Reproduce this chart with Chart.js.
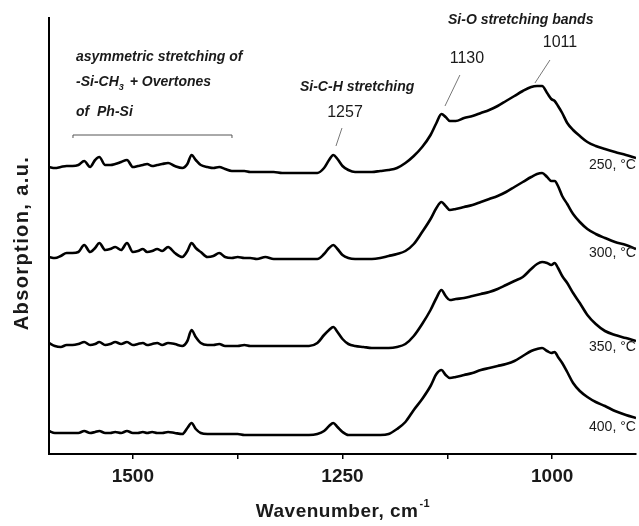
<!DOCTYPE html>
<html>
<head>
<meta charset="utf-8">
<script src="https://cdn.jsdelivr.net/npm/chart.js@4.4.1/dist/chart.umd.min.js"></script>
<style>
  html, body { margin: 0; padding: 0; background: #fff; }
  #wrap { width: 639px; height: 526px; }
</style>
</head>
<body>
<div id="wrap"><canvas id="ftir" width="639" height="526"></canvas></div>
<script>
// wavenumber grid, cm-1 (shared by all four spectra)
const wavenumbers = [
  1600, 1593, 1586, 1579, 1572, 1565, 1558, 1551, 1545, 1540,
  1533, 1527, 1521, 1514, 1507, 1500, 1494, 1488, 1483, 1477,
  1471, 1465, 1458, 1450, 1441, 1435, 1430, 1425, 1419, 1411,
  1404, 1397, 1390, 1382, 1375, 1367, 1360, 1352, 1342, 1332,
  1322, 1311, 1300, 1290, 1280, 1272, 1266, 1261, 1256, 1250,
  1243, 1235, 1225, 1215, 1205, 1195, 1185, 1175, 1165, 1155,
  1145, 1138, 1132, 1127, 1122, 1115, 1105, 1095, 1085, 1075,
  1065, 1055, 1045, 1035, 1025, 1018, 1012, 1006, 1001, 997,
  993, 988, 982, 975, 967, 958, 948, 937, 925, 912, 900
];

// absorption, a.u. (curves already stacked as in the figure)
const abs250 = [
  28.7, 28.6, 28.7, 28.8, 28.8, 28.9, 29.3, 28.7, 29.4, 29.7,
  28.9, 28.9, 29.0, 29.2, 29.4, 28.7, 28.8, 28.9, 29.0, 28.8,
  28.9, 29.0, 29.1, 28.8, 28.6, 29.0, 29.9, 29.4, 28.9, 28.7,
  28.6, 28.7, 28.5, 28.3, 28.3, 28.3, 28.2, 28.2, 28.2, 28.2,
  28.1, 28.1, 28.1, 28.1, 28.1, 28.6, 29.4, 29.9, 29.5, 28.8,
  28.4, 28.2, 28.2, 28.2, 28.3, 28.4, 28.6, 29.1, 29.8, 30.7,
  31.9, 33.1, 34.0, 33.7, 33.3, 33.3, 33.6, 33.8, 34.1, 34.4,
  34.8, 35.3, 35.8, 36.3, 36.7, 36.8, 36.8, 36.1, 35.5, 35.3,
  34.8, 34.1, 33.1, 32.4, 31.8, 31.2, 30.8, 30.5, 30.2, 29.9, 29.6
];
const abs300 = [
  19.7, 19.6, 19.8, 20.1, 20.1, 20.2, 20.9, 20.2, 20.6, 21.1,
  20.4, 20.5, 20.7, 20.4, 21.1, 20.2, 20.3, 20.5, 20.2, 20.3,
  20.5, 20.3, 20.7, 20.1, 19.7, 20.3, 21.1, 20.6, 20.2, 19.7,
  19.8, 20.1, 19.7, 19.6, 19.7, 19.6, 19.6, 19.5, 19.7, 19.5,
  19.5, 19.5, 19.5, 19.5, 19.5, 20.0, 20.6, 20.9, 20.5, 19.9,
  19.6, 19.5, 19.5, 19.5, 19.6, 19.8, 20.0, 20.3, 21.0, 22.2,
  23.5, 24.6, 25.2, 24.8, 24.4, 24.5, 24.7, 24.9, 25.2, 25.5,
  25.8, 26.2, 26.7, 27.2, 27.7, 28.0, 28.1, 27.7, 27.3, 27.3,
  26.8, 25.8, 25.0, 24.0, 23.2, 22.5, 22.0, 21.6, 21.2, 20.9, 20.5
];
const abs350 = [
  11.1, 10.8, 10.7, 10.9, 10.9, 11.0, 11.2, 10.9, 11.0, 11.2,
  10.9, 11.0, 11.2, 11.0, 11.2, 10.9, 11.0, 11.1, 10.9, 11.0,
  11.1, 10.9, 11.1, 11.0, 10.8, 11.3, 12.4, 11.7, 11.1, 10.9,
  10.9, 11.0, 10.8, 10.8, 10.8, 10.9, 10.8, 10.8, 10.8, 10.8,
  10.8, 10.8, 10.8, 10.8, 11.1, 11.9, 12.4, 12.7, 12.2, 11.5,
  11.0, 10.8, 10.7, 10.6, 10.6, 10.6, 10.7, 11.0, 11.8, 13.0,
  14.4, 15.6, 16.4, 15.8, 15.4, 15.5, 15.6, 15.8, 16.0, 16.2,
  16.5, 16.9, 17.3, 17.7, 18.5, 19.0, 19.2, 19.1, 18.9, 19.1,
  18.6, 17.8, 17.1, 16.1, 15.1, 13.9, 13.0, 12.3, 11.9, 11.6, 11.3
];
const abs400 = [
  2.3, 2.1, 2.1, 2.1, 2.1, 2.1, 2.3, 2.1, 2.2, 2.3,
  2.1, 2.1, 2.2, 2.1, 2.3, 2.1, 2.1, 2.2, 2.1, 2.2,
  2.1, 2.1, 2.2, 2.1, 2.0, 2.6, 3.1, 2.5, 2.1, 2.0,
  2.0, 2.0, 2.0, 2.0, 2.0, 1.9, 1.9, 1.9, 1.9, 1.9,
  1.9, 1.9, 1.9, 1.9, 2.0, 2.3, 2.8, 3.1, 2.7, 2.2,
  1.9, 1.9, 1.9, 1.9, 1.9, 2.0, 2.5, 3.2, 4.4, 5.5,
  6.8, 8.0, 8.4, 7.9, 7.6, 7.7, 7.9, 8.1, 8.4, 8.6,
  8.8, 9.0, 9.3, 9.8, 10.3, 10.5, 10.6, 10.3, 10.1, 10.2,
  9.7, 9.1, 8.2, 7.1, 6.3, 5.7, 5.2, 4.8, 4.3, 3.9, 3.6
];

const temperatures = ['250', '300', '350', '400'];
const spectra = [abs250, abs300, abs350, abs400];
// where each temperature label sits (wavenumber, a.u.)
const tempLabelX = 956;
const tempLabelY = [28.9, 20.1, 10.7, 2.7];

const majorTicks = [1500, 1250, 1000];
const minorTicks = [1375, 1125];

const FONT = '"Liberation Sans", Arial, Helvetica, sans-serif';

const annotations = {
  id: 'annotations',
  afterDraw(chart) {
    const { ctx, chartArea, scales: { x, y } } = chart;
    const px = v => x.getPixelForValue(v);
    const py = v => y.getPixelForValue(v);
    ctx.save();
    ctx.fillStyle = '#1a1a1a';
    ctx.textBaseline = 'middle';

    // band descriptions
    ctx.font = 'italic bold 14px ' + FONT;
    ctx.textAlign = 'left';
    ctx.fillText('asymmetric stretching of', px(1567.8), py(39.7));
    let tx = px(1567.8);
    ctx.fillText('-Si-CH', tx, py(37.2));
    tx += ctx.measureText('-Si-CH').width;
    ctx.font = 'italic bold 9px ' + FONT;
    ctx.fillText('3', tx, py(37.2) + 6);
    tx += ctx.measureText('3').width + 6;
    ctx.font = 'italic bold 14px ' + FONT;
    ctx.fillText('+ Overtones', tx, py(37.2));
    ctx.fillText('of  Ph-Si', px(1567.8), py(34.2));
    ctx.fillText('Si-C-H stretching', px(1300.7), py(36.7));
    ctx.fillText('Si-O stretching bands', px(1124.2), py(43.4));

    // bracket over the overtone region
    ctx.strokeStyle = '#555';
    ctx.lineWidth = 1;
    ctx.beginPath();
    ctx.moveTo(px(1571.4), py(31.6));
    ctx.lineTo(px(1571.4), py(31.9));
    ctx.lineTo(px(1381.8), py(31.9));
    ctx.lineTo(px(1381.8), py(31.6));
    ctx.stroke();

    // peak positions with leader lines
    ctx.font = '16px ' + FONT;
    ctx.textAlign = 'center';
    ctx.fillText('1257', px(1247), py(34.1));
    ctx.fillText('1130', px(1101.6), py(39.5));
    ctx.fillText('1011', px(990.6), py(41.1));
    ctx.strokeStyle = '#777';
    [[1250.6, 32.6, 1257.8, 30.8], [1110, 37.9, 1127.8, 34.8], [1002.6, 39.4, 1020.5, 37.1]]
      .forEach(([x1, y1, x2, y2]) => {
        ctx.beginPath();
        ctx.moveTo(px(x1), py(y1));
        ctx.lineTo(px(x2), py(y2));
        ctx.stroke();
      });

    // temperature labels
    ctx.font = '14px ' + FONT;
    ctx.textAlign = 'left';
    temperatures.forEach((t, i) => {
      ctx.fillText(t + ', \u00B0C', px(tempLabelX), py(tempLabelY[i]));
    });

    // axis titles
    ctx.letterSpacing = '0.5px';
    ctx.font = 'bold 19px ' + FONT;
    const main = 'Wavenumber, cm';
    const w1 = ctx.measureText(main).width;
    ctx.font = 'bold 11px ' + FONT;
    const w2 = ctx.measureText('-1').width;
    const cx = (chartArea.left + chartArea.right) / 2;
    let sx = cx - (w1 + w2) / 2;
    ctx.textAlign = 'left';
    ctx.font = 'bold 19px ' + FONT;
    ctx.fillText(main, sx, 512);
    ctx.font = 'bold 11px ' + FONT;
    ctx.fillText('-1', sx + w1 + 1, 504);

    ctx.letterSpacing = '1.4px';
    ctx.translate(22, 243);
    ctx.rotate(-Math.PI / 2);
    ctx.textAlign = 'center';
    ctx.font = 'bold 20px ' + FONT;
    ctx.fillText('Absorption, a.u.', 0, 0);
    ctx.restore();
  }
};

new Chart(document.getElementById('ftir'), {
  type: 'line',
  data: {
    datasets: spectra.map((vals, i) => ({
      label: temperatures[i] + ' \u00B0C',
      data: wavenumbers.map((wn, j) => ({ x: wn, y: vals[j] })),
      borderColor: '#000',
      borderWidth: 2.6,
      pointRadius: 0,
      fill: false,
      cubicInterpolationMode: 'monotone'
    }))
  },
  options: {
    responsive: false,
    animation: false,
    devicePixelRatio: 1,
    layout: { padding: { top: 18, right: 3, left: 0, bottom: 0 } },
    plugins: { legend: { display: false }, tooltip: { enabled: false } },
    scales: {
      x: {
        type: 'linear',
        min: 900,
        max: 1600,
        reverse: true,
        border: { display: true, color: '#000', width: 2 },
        grid: { display: true, drawOnChartArea: false, drawTicks: true, tickLength: 5, color: '#000', lineWidth: 1.5 },
        ticks: {
          color: '#1a1a1a',
          font: { family: FONT, size: 19, weight: 'bold' },
          padding: 6,
          maxRotation: 0,
          autoSkip: false,
          callback: v => (majorTicks.includes(v) ? String(v) : '')
        },
        afterBuildTicks: scale => {
          scale.ticks = majorTicks.concat(minorTicks).sort((a, b) => b - a).map(v => ({ value: v }));
        },
        afterFit: scale => { scale.height = 72; }
      },
      y: {
        min: 0,
        max: 43.6,
        border: { display: true, color: '#000', width: 2 },
        grid: { display: false },
        ticks: { display: false },
        afterFit: scale => { scale.width = 49; }
      }
    }
  },
  plugins: [annotations]
});
</script>
</body>
</html>
